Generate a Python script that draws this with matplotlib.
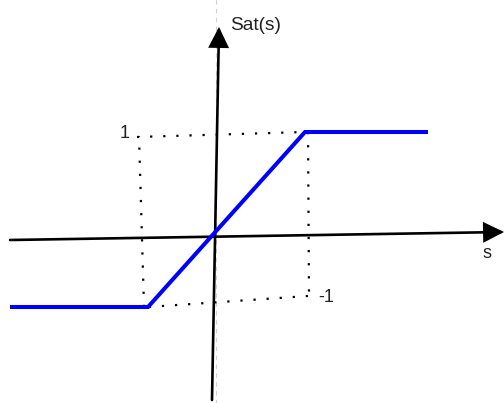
import matplotlib
matplotlib.use("Agg")
import matplotlib.pyplot as plt
from matplotlib.patches import FancyArrowPatch

# ---- data (diagram units, origin at the axis crossing) ----
sat_s = [-2.05, -0.67, 0.90, 2.13]
sat_v = [-0.71, -0.71, 1.04, 1.04]

# axis lines (start, tip)
h_axis_x = [-2.05, 2.89]
h_axis_y = [-0.04, 0.04]
v_axis_x = [-0.03, 0.04]
v_axis_y = [-1.64, 2.09]

# dotted guide box segments
box_top_x = [-0.78, 0.90]
box_top_y = [0.99, 1.04]
box_right_x = [0.93, 0.94]
box_right_y = [1.04, -0.58]
box_bottom_x = [0.93, -0.67]
box_bottom_y = [-0.60, -0.71]
box_left_x = [-0.71, -0.76]
box_left_y = [-0.71, 1.00]

# faint construction line
guide_x = [0.01, 0.01]
guide_y = [-1.70, 2.40]

labels = {"Sat(s)": (0.15, 2.11), "1": (-0.85, 1.03), "-1": (1.03, -0.62), "s": (2.72, -0.17)}

# ---- figure ----
fig = plt.figure(figsize=(5.04, 4.03), dpi=100)
ax = fig.add_axes([0, 0, 1, 1])
ax.set_xlim(-2.15, 2.89)
ax.set_ylim(-1.67, 2.36)
ax.axis("off")

ax.plot(guide_x, guide_y, color="#d0d0d0", lw=0.8, ls=(0, (4, 4)), zorder=0)

dot = dict(color="black", lw=1.6, ls=(0, (1, 4.9)), dash_capstyle="butt", zorder=1)
for xs, ys in [(box_top_x, box_top_y), (box_right_x, box_right_y),
               (box_bottom_x, box_bottom_y), (box_left_x, box_left_y)]:
    ax.plot(xs, ys, **dot)

for xs, ys in [(h_axis_x, h_axis_y), (v_axis_x, v_axis_y)]:
    arr = FancyArrowPatch((xs[0], ys[0]), (xs[1], ys[1]),
                          arrowstyle="-|>,head_length=0.6,head_width=0.3",
                          mutation_scale=20, lw=1.9, color="black",
                          shrinkA=0, shrinkB=0, joinstyle="miter", zorder=2)
    ax.add_patch(arr)

ax.plot(sat_s, sat_v, color="#0000FF", lw=2.9, solid_joinstyle="miter",
        solid_capstyle="butt", zorder=3)

fs = 13
ax.text(*labels["Sat(s)"], "Sat(s)", ha="left", va="center", fontsize=13.8,
        family="Liberation Sans", color="#222222")
ax.text(*labels["1"], "1", ha="right", va="center", fontsize=fs,
        family="Liberation Sans", color="#222222")
ax.text(*labels["-1"], "-1", ha="left", va="center", fontsize=fs,
        family="Liberation Sans", color="#222222")
ax.text(*labels["s"], "s", ha="center", va="center", fontsize=fs,
        family="Liberation Sans", color="#222222")

fig.savefig("out.png", dpi=100)
